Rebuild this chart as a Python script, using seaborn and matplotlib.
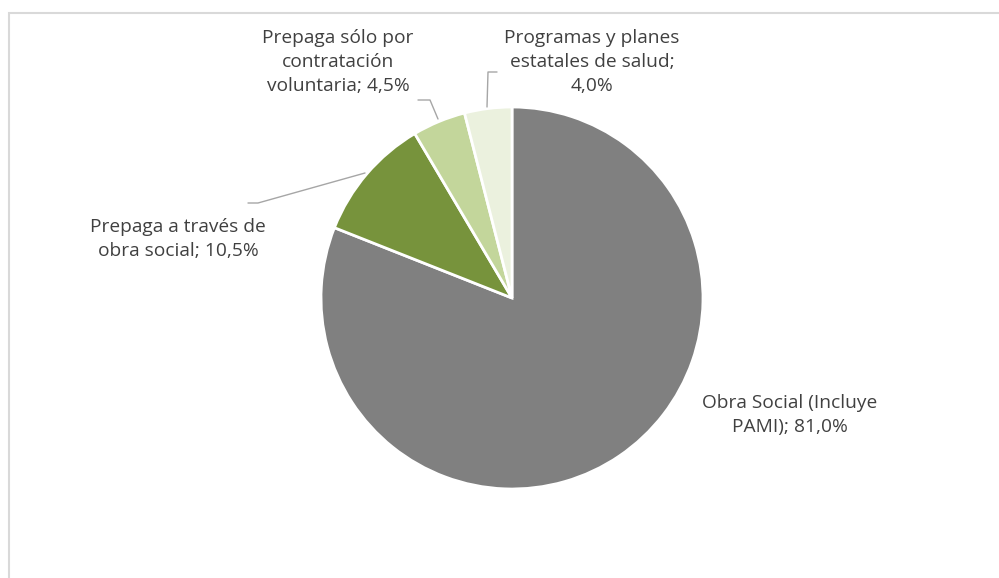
import matplotlib
matplotlib.use("Agg")
import matplotlib.pyplot as plt
import matplotlib.patches as mpatches
import seaborn as sns

values = [81.0, 10.5, 4.5, 4.0]
labels = ["Obra Social (Incluye\nPAMI); 81,0%", "Prepaga a través de\nobra social; 10,5%",
          "Prepaga sólo por\ncontratación\nvoluntaria; 4,5%", "Programas y planes\nestatales de salud;\n4,0%"]
colors = ["#808080", "#77933C", "#C3D69B", "#EBF1DE"]

sns.set_theme(style="white")
plt.rcParams['font.family'] = ['Open Sans', 'DejaVu Sans']

W, H = 999, 578
fig = plt.figure(figsize=(W / 100, H / 100), dpi=100)
ax = fig.add_axes([0, 0, 1, 1])

cx, cy, r = 512, H - 298, 191
ax.pie(values, colors=colors, startangle=90, counterclock=False,
       center=(cx, cy), radius=r,
       wedgeprops=dict(edgecolor="white", linewidth=2.0))
ax.set_xlim(0, W)
ax.set_ylim(0, H)
ax.set_aspect("auto")
ax.axis("off")

# chart border
fig.patches.append(mpatches.Rectangle((8.5, -10), W + 20, H - 12 + 10 - 0.5, transform=None,
                                      fill=False, edgecolor="#D9D9D9", linewidth=1.5))

txt_color = "#404040"
fs = 13.8
label_pos = [(790, 415), (178, 239), (338, 62), (592, 62)]
for lab, (x, y) in zip(labels, label_pos):
    ax.text(x, H - y, lab, ha="center", va="center", fontsize=fs, color=txt_color,
            linespacing=1.45)

# leader lines
lc = "#A6A6A6"
leaders = [
    [(248, 203), (258, 203), (365, 173)],
    [(418, 100), (430, 100), (438, 119)],
    [(497, 72), (488, 72), (487, 107)],
]
for pts in leaders:
    xs = [p[0] for p in pts]
    ys = [H - p[1] for p in pts]
    ax.plot(xs, ys, color=lc, linewidth=1.0)

fig.savefig("out.png", dpi=100)
